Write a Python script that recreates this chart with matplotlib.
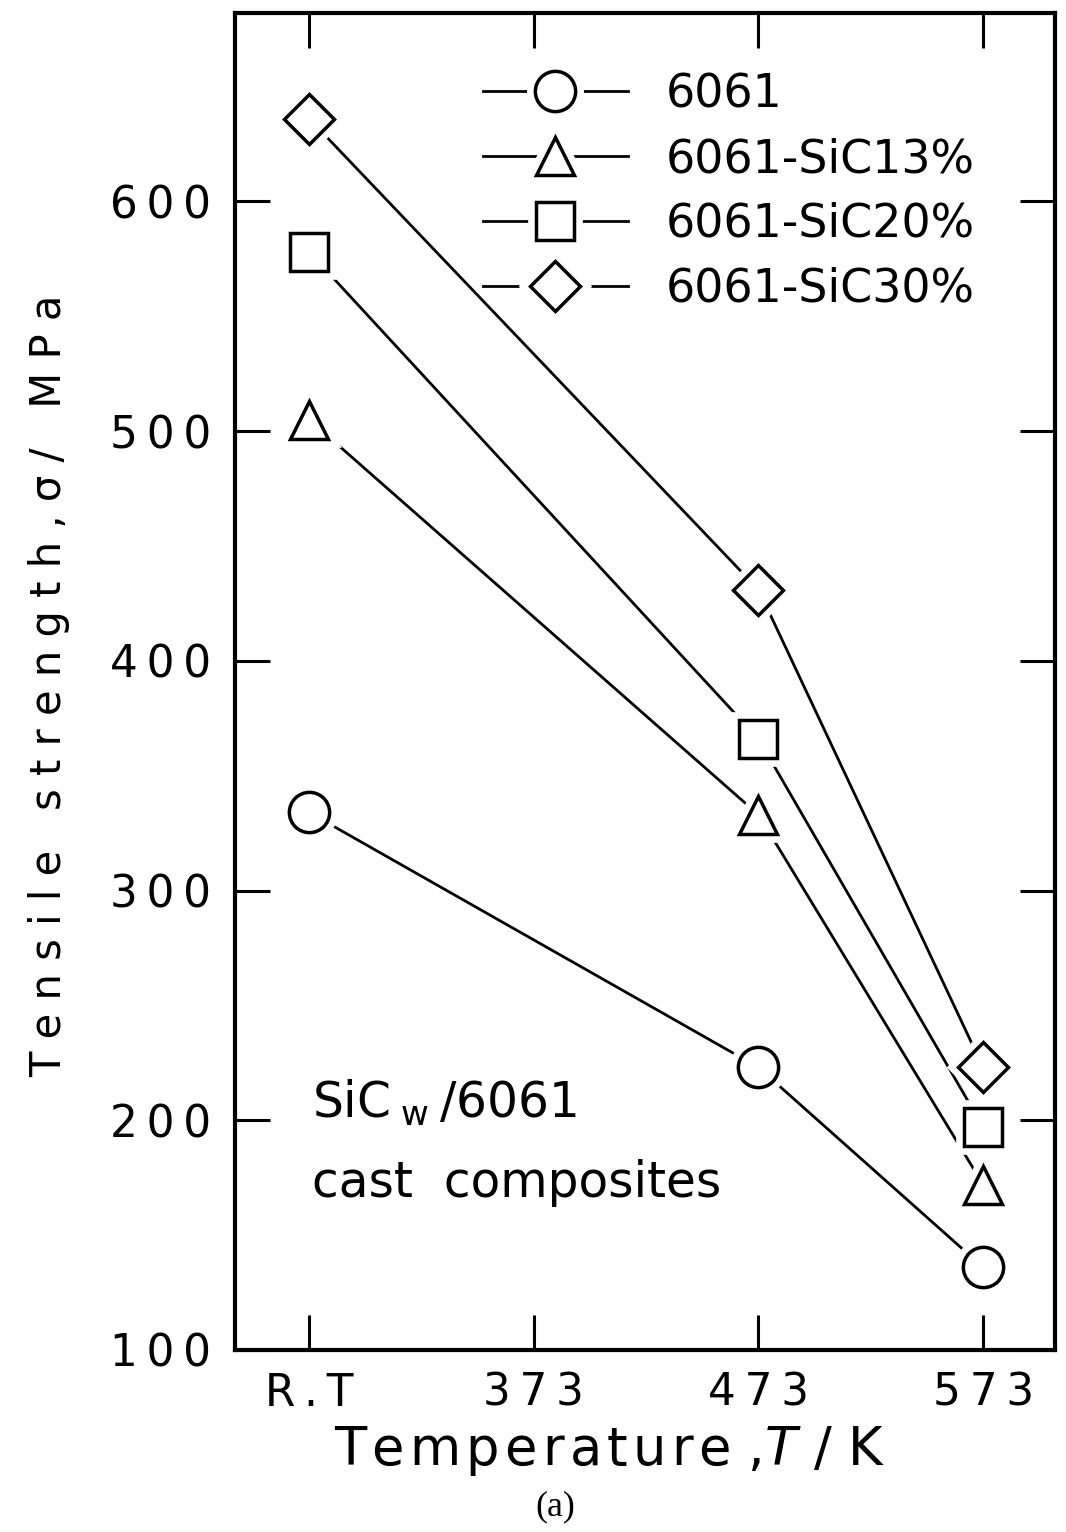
import matplotlib.pyplot as plt
from matplotlib.lines import Line2D
from matplotlib.legend_handler import HandlerTuple

# Data (tensile strength in MPa)
temps = [273, 473, 573]
x_ticks = [273, 373, 473, 573]
x_tick_labels = ["R.T", "373", "473", "573"]
y_ticks = [100, 200, 300, 400, 500, 600]
y_tick_labels = ["100", "200", "300", "400", "500", "600"]

labels = ["6061", "6061-SiC13%", "6061-SiC20%", "6061-SiC30%"]
s6061 = [334, 223, 136]
sic13 = [505, 333, 172]
sic20 = [578, 366, 197]
sic30 = [636, 431, 223]

markers = ["o", "^", "s", "D"]
sizes = [29, 27, 28, 25]

THIN = "\u2009"
HAIR = "\u200a"
def spaced(s, sep=THIN):
    return sep.join(list(s))

fig = plt.figure(figsize=(10.66, 15.32), dpi=100)
ax = fig.add_axes([0.2205, 0.1188, 0.7692, 0.8727])

line_w = 2.0
edge_w = 2.5
gap_w = 12

all_series = [s6061, sic13, sic20, sic30]

# lines first, then white "gap" markers, then the real open markers
for vals in all_series:
    ax.plot(temps, vals, color="black", lw=line_w, zorder=2)
for vals, m, ms in zip(all_series, markers, sizes):
    ax.plot(temps, vals, ls="none", marker=m, ms=ms, mfc="white", mec="white",
            mew=gap_w, zorder=3)
for vals, m, ms in zip(all_series, markers, sizes):
    ax.plot(temps, vals, ls="none", marker=m, ms=ms, mfc="white", mec="black",
            mew=edge_w, zorder=4)

ax.set_xlim(240, 605)
ax.set_ylim(100, 682)
ax.set_xticks(x_ticks)
ax.set_xticklabels([spaced(t) for t in x_tick_labels])
ax.set_yticks(y_ticks)
ax.set_yticklabels([spaced(t) for t in y_tick_labels])

ax.tick_params(axis="both", direction="in", length=25, width=2.2,
               top=True, right=True, labelsize=31.5)
ax.tick_params(axis="x", pad=15.5)
ax.tick_params(axis="y", pad=17)
for sp in ax.spines.values():
    sp.set_linewidth(3)

# axis labels
ax.set_ylabel("T e n s i l e   s t r e n g t h , σ /   M P a", fontsize=30)
ax.yaxis.label.set(va="center", rotation_mode="default")
ax.yaxis.set_label_coords(-0.227, 0.497)

ax.set_xlabel(spaced("Temperature", HAIR) + r" ,$\mathit{T}$ / K", fontsize=38)
ax.xaxis.label.set(va="baseline")
ax.xaxis.set_label_coords(0.457, -0.086)

# legend with gaps between line and marker
handles = []
for m, ms in zip(markers, sizes):
    h = (Line2D([], [], color="black", lw=line_w),
         Line2D([], [], ls="none", marker=m, ms=ms, mfc="white", mec="white", mew=gap_w),
         Line2D([], [], ls="none", marker=m, ms=ms, mfc="white", mec="black", mew=edge_w))
    handles.append(h)
ax.legend(handles, labels, handler_map={tuple: HandlerTuple(ndivide=1, pad=0)},
          loc="upper left", bbox_to_anchor=(0.302, 0.9555), frameon=False,
          fontsize=33, handlelength=3.17, handletextpad=0.83, labelspacing=0.43,
          borderpad=0, borderaxespad=0)

# annotation
ax.text(0.094, 0.1735, "SiC" + THIN + r"$_{\mathrm{w}}$" + THIN + "/6061",
        transform=ax.transAxes, fontsize=35, va="baseline", ha="left")
ax.text(0.094, 0.1144, "cast  composites", transform=ax.transAxes,
        fontsize=35, va="baseline", ha="left")

fig.text(555 / 1066, 0.0163, "(a)", family="Liberation Serif", fontsize=26,
         ha="center", va="center")

fig.savefig("out.png", dpi=100)
